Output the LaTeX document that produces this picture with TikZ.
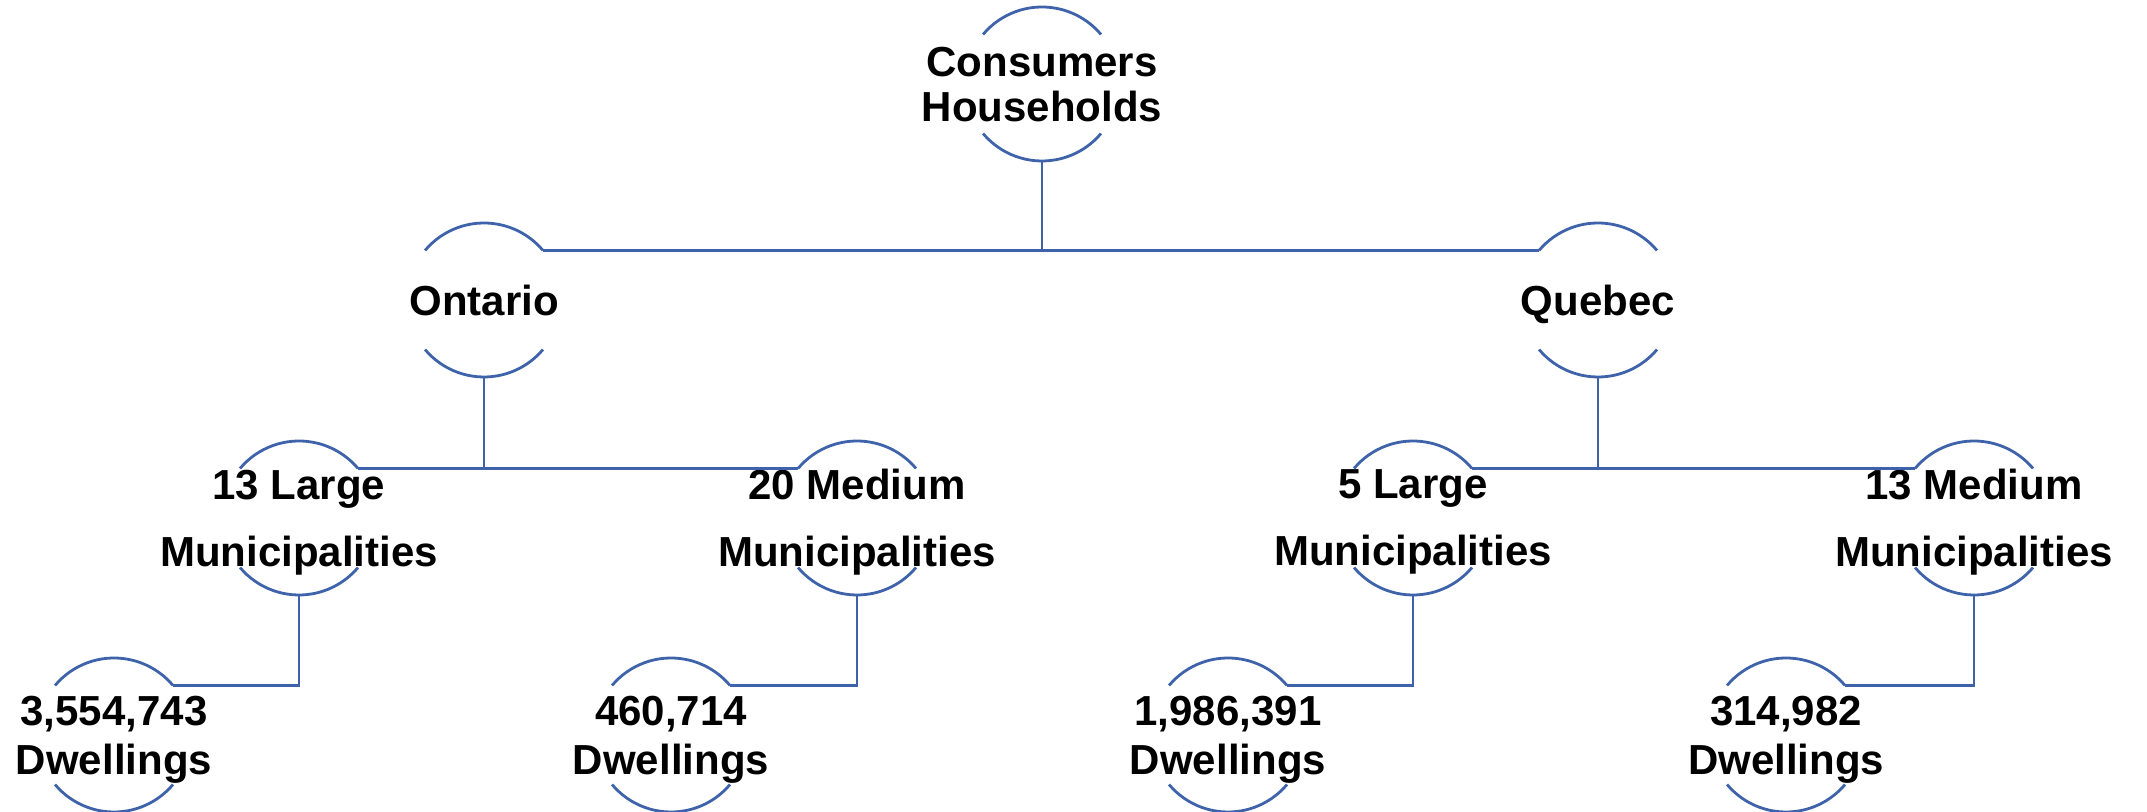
\documentclass[tikz,border=0pt]{standalone}
\usepackage{fontspec}
\setmainfont{Liberation Sans}
\definecolor{lineblue}{RGB}{63,99,170}
\begin{document}
\begin{tikzpicture}[x=0.5pt,y=0.5pt,
  ring/.style={circle,minimum size=77pt,inner sep=0pt,outer sep=0pt},
  arcline/.style={draw=lineblue,line width=1.4pt},
  conn/.style={draw=lineblue,line width=1.4pt},
  txt/.style={align=center,inner sep=0pt,text depth=0pt,font=\bfseries\fontsize{21}{22.5}\selectfont},
  txtmid/.style={txt,font=\bfseries\fontsize{21}{33.5}\selectfont},
  txtlow/.style={txt,font=\bfseries\fontsize{21}{24.5}\selectfont}]
\useasboundingbox (0,0) rectangle (2147,812);
% rings
\node[ring] (root) at (1042,728) {};
\node[ring] (ont) at (484,512) {};
\node[ring] (que) at (1598,512) {};
\node[ring] (l13) at (299,294) {};
\node[ring] (m20) at (857,294) {};
\node[ring] (l5) at (1413,294) {};
\node[ring] (m13) at (1974,294) {};
\node[ring] (d1) at (114,77) {};
\node[ring] (d2) at (671,77) {};
\node[ring] (d3) at (1228,77) {};
\node[ring] (d4) at (1786,77) {};
\foreach \n in {root,ont,que,l13,m20,l5,m13,d1,d2,d3,d4}{
  \draw[arcline] (\n.140) arc[start angle=140,end angle=40,radius=38.5pt];
  \draw[arcline] (\n.220) arc[start angle=220,end angle=320,radius=38.5pt];
}
% texts
\node[txt] (rootT) at (root) {Consumers\\Households};
\node[txt] (ontT) at (ont) {Ontario};
\node[txt] (queT) at (que) {Quebec};
\node[txtmid] (l13T) at (l13) {13 Large\\Municipalities};
\node[txtmid] (m20T) at (m20) {20 Medium\\Municipalities};
\node[txtmid] (l5T) at (l5) {5 Large\\Municipalities};
\node[txtmid] (m13T) at (m13) {13 Medium\\Municipalities};
\node[txtlow] (d1T) at (d1) {3,554,743\\Dwellings};
\node[txtlow] (d2T) at (d2) {460,714\\Dwellings};
\node[txtlow] (d3T) at (d3) {1,986,391\\Dwellings};
\node[txtlow] (d4T) at (d4) {314,982\\Dwellings};
% connectors
\draw[conn] (root.south) -- (root.south |- ont.40);
\draw[conn] (ont.40) -- (que.140);
\draw[conn] (ont.south) -- (ont.south |- l13.40);
\draw[conn] (l13.40) -- (m20.140);
\draw[conn] (que.south) -- (que.south |- l5.40);
\draw[conn] (l5.40) -- (m13.140);
\draw[conn] (l13.south) |- (d1.40);
\draw[conn] (m20.south) |- (d2.40);
\draw[conn] (l5.south) |- (d3.40);
\draw[conn] (m13.south) |- (d4.40);
\end{tikzpicture}
\end{document}
